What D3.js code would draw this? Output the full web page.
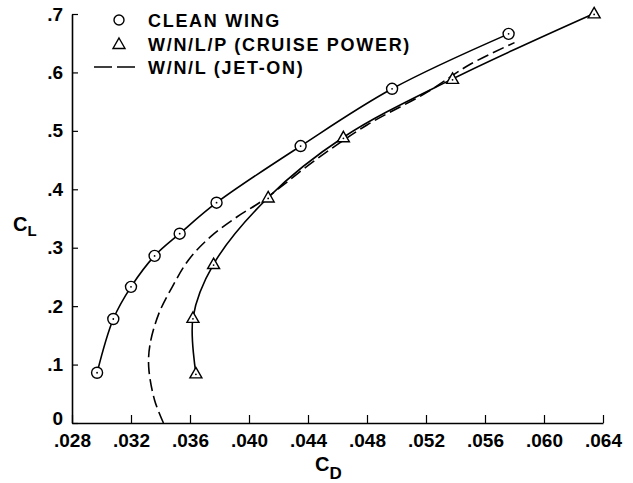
<html>
<head>
<script src="https://cdn.jsdelivr.net/npm/d3@7"></script>
<style>
body { margin: 0; background: #fff; }
text { font-family: "Liberation Sans", Arial, sans-serif; font-weight: bold; fill: #000; }
.curve { fill: none; stroke: #000; stroke-width: 1.6px; }
.dashed { stroke-dasharray: 12, 5; }
.marker { fill: #fff; stroke: #000; stroke-width: 1.4px; }
</style>
</head>
<body>
<script>
// clean wing (circles)
var cleanCD = [.0297, .0308, .0320, .0336, .0353, .0378, .0435, .0497, .0576];
var cleanCL = [.086, .178, .233, .286, .324, .377, .474, .572, .666];

// W/N/L/P cruise power (triangles)
var powerCD = [.0364, .0362, .0376, .0413, .0464, .0538, .0634];
var powerCL = [.085, .180, .272, .386, .489, .589, .701];

// W/N/L jet-on (dashed)
var jetCD = [.0342, .0336, .0332, .0333, .0339, .0348, .0359, .0374, .0392, .0410, .0445, .0480, .0520, .0550, .0580];
var jetCL = [0, .039, .096, .136, .188, .233, .279, .319, .353, .382, .450, .510, .565, .614, .651];

var xTicks = [.028, .032, .036, .040, .044, .048, .052, .056, .060, .064];
var yTicks = [0, .1, .2, .3, .4, .5, .6, .7];
var legendLabels = ["CLEAN WING", "W/N/L/P (CRUISE POWER)", "W/N/L (JET-ON)"];

var width = 633, height = 483;
var svg = d3.select("body").append("svg")
            .attr("width", width)
            .attr("height", height);

var x = d3.scaleLinear().domain([.028, .064]).range([72, 603]);
var y = d3.scaleLinear().domain([0, .7]).range([423, 14]);

// axes
var xAxis = d3.axisBottom(x).tickValues(xTicks).tickSizeInner(-8).tickSizeOuter(0)
              .tickFormat(function(d) { return d3.format(".3f")(d).replace(/^0/, ""); });
var gx = svg.append("g").attr("transform", "translate(0,423)").call(xAxis);
gx.select(".domain").attr("stroke", "#000").attr("stroke-width", 1.6);
gx.selectAll(".tick line").attr("stroke", "#000").attr("stroke-width", 1.2);
gx.selectAll(".tick text").attr("y", 11).attr("dy", "0.71em")
  .style("font-size", "19px").style("font-family", "Liberation Sans, Arial, sans-serif").style("font-weight", "bold");

var yAxis = d3.axisLeft(y).tickValues(yTicks).tickSizeInner(-6).tickSizeOuter(0)
              .tickFormat(function(d) { return d === 0 ? "0" : d3.format(".1f")(d).replace(/^0/, ""); });
var gy = svg.append("g").attr("transform", "translate(72,0)").call(yAxis);
gy.select(".domain").attr("stroke", "#000").attr("stroke-width", 1.6);
gy.selectAll(".tick line").attr("stroke", "#000").attr("stroke-width", 1.2);
gy.selectAll(".tick text").attr("x", -9)
  .attr("dy", function(d) { return d === 0 ? "0.1em" : "0.32em"; })
  .style("font-size", "19px").style("font-family", "Liberation Sans, Arial, sans-serif").style("font-weight", "bold");

// axis titles
var cl = svg.append("text").attr("x", 13).attr("y", 231).style("font-size", "20px");
cl.append("tspan").text("C");
cl.append("tspan").attr("dy", 5).style("font-size", "15px").text("L");

var cd = svg.append("text").attr("x", 315).attr("y", 471).style("font-size", "20px");
cd.append("tspan").text("C");
cd.append("tspan").attr("dy", 8).style("font-size", "17px").text("D");

// curves
var line = d3.line()
             .x(function(d) { return x(d[0]); })
             .y(function(d) { return y(d[1]); })
             .curve(d3.curveCatmullRom.alpha(0.5));

var clean = d3.zip(cleanCD, cleanCL);
var power = d3.zip(powerCD, powerCL);
var jet = d3.zip(jetCD, jetCL);

svg.append("path").attr("class", "curve").attr("d", line(clean));
svg.append("path").attr("class", "curve").attr("d", line(power));
svg.append("path").attr("class", "curve dashed").attr("d", line(jet));

// markers
var triPath = "M0,-6 L6,4.5 L-6,4.5 Z";

svg.selectAll(".cmark").data(clean).enter().append("circle")
   .attr("class", "marker")
   .attr("cx", function(d) { return x(d[0]); })
   .attr("cy", function(d) { return y(d[1]); })
   .attr("r", 5.5);
svg.selectAll(".cdot").data(clean).enter().append("circle")
   .attr("cx", function(d) { return x(d[0]); })
   .attr("cy", function(d) { return y(d[1]); })
   .attr("r", 0.9).attr("fill", "#000");

svg.selectAll(".tmark").data(power).enter().append("path")
   .attr("class", "marker")
   .attr("d", triPath)
   .attr("transform", function(d) { return "translate(" + x(d[0]) + "," + y(d[1]) + ")"; });
svg.selectAll(".tdot").data(power).enter().append("circle")
   .attr("cx", function(d) { return x(d[0]); })
   .attr("cy", function(d) { return y(d[1]) + 1; })
   .attr("r", 0.9).attr("fill", "#000");

// legend
var legend = svg.append("g");
legend.append("circle").attr("class", "marker").attr("cx", 119).attr("cy", 20).attr("r", 5);
legend.append("path").attr("class", "marker").attr("d", triPath).attr("transform", "translate(119,44)");
legend.append("line").attr("class", "curve").attr("x1", 94).attr("x2", 138)
      .attr("y1", 67).attr("y2", 67).style("stroke-dasharray", "18,5");

legend.selectAll(".ltext").data(legendLabels).enter().append("text")
      .attr("x", 148)
      .attr("y", function(d, i) { return 27 + i * 23.5; })
      .style("font-size", "18px")
      .style("letter-spacing", "1.7px")
      .text(function(d) { return d; });
</script>
</body>
</html>
